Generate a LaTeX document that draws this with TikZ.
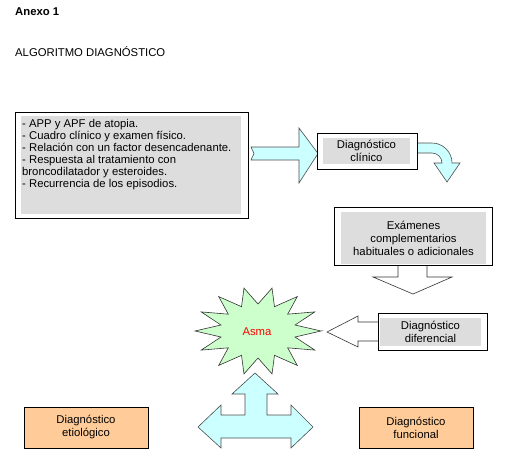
\documentclass[tikz,border=0pt]{standalone}
\usepackage{fontspec}
\setmainfont{Liberation Sans}
\usepackage{tikz}
\usetikzlibrary{
    calc,                   % Points of the star.
    positioning             % Relative positioning of nodes.
}
\definecolor{arrowcyan}{HTML}{CCFFFF}
\definecolor{boxgray}{HTML}{DDDDDD}
\definecolor{stargreen}{HTML}{CCFFCC}
\definecolor{boxpeach}{HTML}{FFCC99}

\begin{document}
\begin{tikzpicture}[x=1pt, y=-1pt,
        every node/.style={font=\fontsize{11.3}{13}\selectfont, inner sep=0pt},
        outerbox/.style={draw=black, line width=0.9pt, fill=white},
        graybox/.style={fill=boxgray, align=center},
        peachbox/.style={draw=black, line width=0.9pt, fill=boxpeach, align=center},
        fatarrow/.style={draw=black!70, line width=0.6pt, fill=arrowcyan, line join=miter},
        hollowarrow/.style={draw=black!80, line width=0.6pt, fill=white, line join=miter}
    ]
                \useasboundingbox (0,0) rectangle (530,474);
                % Heading
                \node[anchor=west, font=\fontsize{11.3}{13}\selectfont\bfseries] (annex) at (15,12) {Anexo 1};
                \node[anchor=west] (title) at (15,52) {ALGORITMO DIAGNÓSTICO};
                % Arrows behind the boxes
                \draw[fatarrow] (251,147) -- (254,153.5) -- (251,160) -- (299,160)
                    -- (299,183) -- (318,153.5) -- (299,128) -- (299,147) -- cycle;
                \draw[fatarrow] (415,143) -- (432,143)
                    .. controls (443,143) and (452,152) .. (452,163)
                    -- (460,163) -- (447,182) -- (434,163) -- (442,163)
                    .. controls (442,157.5) and (437.5,153) .. (432,153)
                    -- (415,153) -- cycle;
                \draw[hollowarrow] (398,262) -- (398,277) -- (373,277) -- (413,294)
                    -- (452,277) -- (427,277) -- (427,262) -- cycle;
                \draw[hollowarrow] (380,322) -- (358,322) -- (358,316) -- (327,332)
                    -- (358,347) -- (358,341) -- (380,341) -- cycle;
                \draw[fatarrow] (255,373) -- (278,394) -- (267,394) -- (267,415)
                    -- (291,415) -- (291,405) -- (313,427) -- (291,448) -- (291,438)
                    -- (221,438) -- (221,448) -- (198,427) -- (221,405) -- (221,415)
                    -- (245,415) -- (245,394) -- (232,394) -- cycle;
                % Criteria
                \node[outerbox, minimum width=233, minimum height=106] (crit) at (131.5,165) {};
                \node[graybox, minimum width=220, minimum height=98] (critbg) at (131,165) {};
                \node[anchor=north west, align=left, font=\fontsize{11.3}{12}\selectfont]
                    (crittext) at (22,119) {- APP y APF de atopia.\\
                    - Cuadro clínico y examen físico.\\
                    - Relación con un factor desencadenante.\\
                    - Respuesta al tratamiento con\\
                    broncodilatador y esteroides.\\
                    - Recurrencia de los episodios.};
                % Clinical diagnosis
                \node[outerbox, minimum width=100, minimum height=36] (clin) at (367,151) {};
                \node[graybox, minimum width=87, minimum height=26] (clinbg) at (366.5,151)
                    {Diagnóstico\\clínico};
                % Tests
                \node[outerbox, minimum width=158, minimum height=58] (exam) at (413,236) {};
                \node[graybox, minimum width=145, minimum height=52] (exambg) at (413.5,238)
                    {Exámenes\\complementarios\\habituales o adicionales};
                % Differential diagnosis
                \node[outerbox, minimum width=109, minimum height=37] (difer) at (432.5,331.5) {};
                \node[graybox, minimum width=101, minimum height=28] (diferbg) at (430.5,332)
                    {Diagnóstico\\diferencial};
                % Asthma
                \draw[draw=black!80, line width=0.6pt, fill=stargreen, line join=miter]
                    (321,331) \foreach \k in {0,...,13}{
                        -- ({258+38*cos(360/14*\k+180/14)}, {331+27*sin(360/14*\k+180/14)})
                        -- ({258+63*cos(360/14*\k+360/14)}, {331+44*sin(360/14*\k+360/14)})
                    } -- cycle;
                \node[text=red] (asma) at (257,332) {Asma};
                % Aetiological and functional diagnosis
                \node[peachbox, minimum width=124, minimum height=41] (etio) at (86,427.5)
                    {Diagnóstico\\etiológico};
                \node[peachbox, minimum width=114, minimum height=41] (func) at (416,427.5)
                    {Diagnóstico\\funcional};
            \end{tikzpicture}
\end{document}
